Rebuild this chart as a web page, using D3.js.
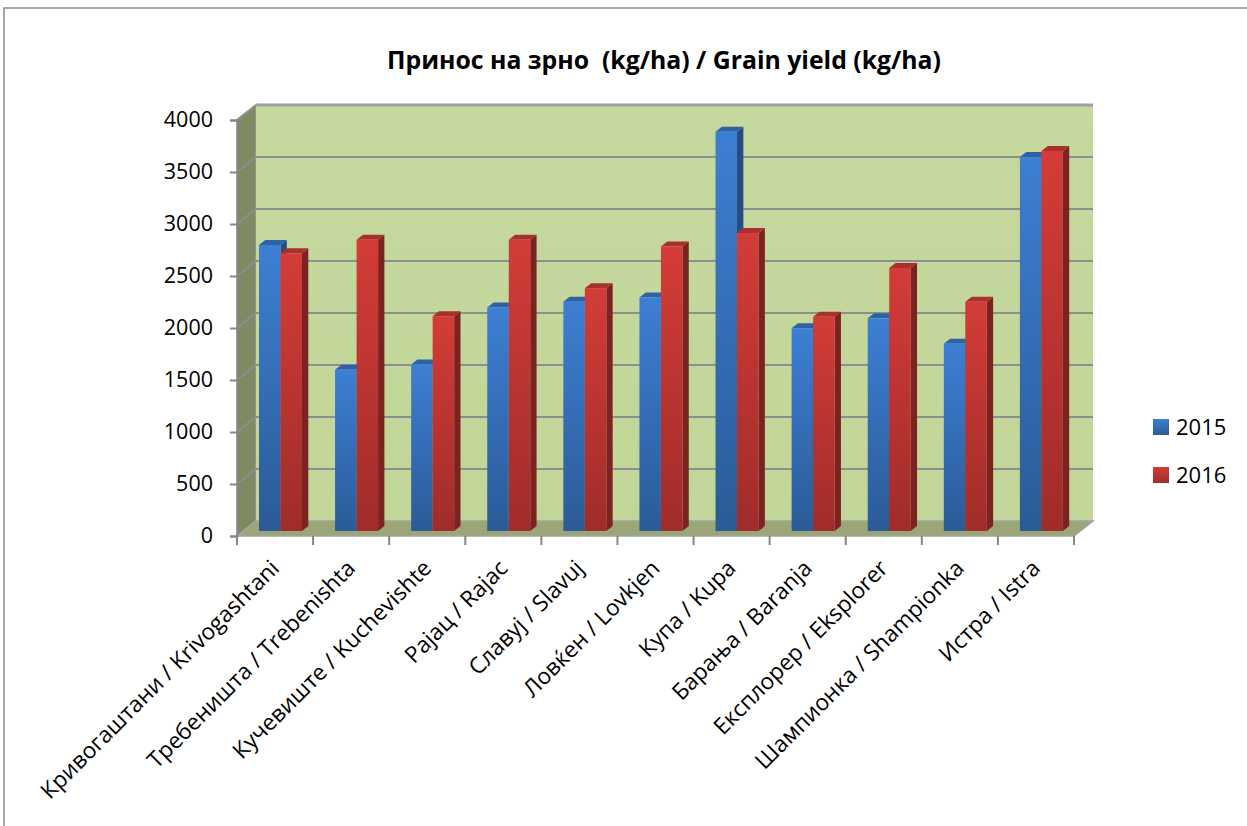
<!DOCTYPE html>
<html>
<head>
<meta charset="utf-8">
<script src="https://cdn.jsdelivr.net/npm/d3@7"></script>
<style>
  html, body { margin: 0; padding: 0; background: #ffffff; }
  svg { display: block; }
  text { font-family: "Open Sans", "Noto Sans", sans-serif; fill: #000; }
</style>
</head>
<body>
<svg id="chart" width="1247" height="826"></svg>
<script>
// Grain yield per variety, two seasons
const categories = [
  "Кривогаштани / Krivogashtani",
  "Требеништа / Trebenishta",
  "Кучевиште / Kuchevishte",
  "Рајац / Rajac",
  "Славуј / Slavuj",
  "Ловќен / Lovkjen",
  "Купа / Kupa",
  "Барања / Baranja",
  "Експлорер / Eksplorer",
  "Шампионка / Shampionka",
  "Истра / Istra"
];
const seriesNames = ["2015", "2016"];
const yield2015 = [2750, 1550, 1600, 2150, 2205, 2245, 3840, 1950, 2045, 1800, 3595];
const yield2016 = [2670, 2800, 2065, 2800, 2335, 2735, 2865, 2060, 2530, 2205, 3655];
const yTicks = [0, 500, 1000, 1500, 2000, 2500, 3000, 3500, 4000];
const titleText = "Принос на зрно  (kg/ha) / Grain yield (kg/ha)";

const svg = d3.select("#chart");

// outer chart frame
svg.append("rect")
  .attr("x", 4).attr("y", 8).attr("width", 1300).attr("height", 900)
  .attr("fill", "none").attr("stroke", "#8a8a8a").attr("stroke-width", 1.5);

// oblique depth vector of the 3D box
const depth = { x: 19, y: -15 };

const x = d3.scaleBand().domain(categories).range([237, 1074]);
const y = d3.scaleLinear().domain([0, 4000]).range([536, 120]);

const defs = svg.append("defs");
function vGrad(id, top, bottom) {
  const g = defs.append("linearGradient").attr("id", id)
    .attr("x1", 0).attr("y1", 0).attr("x2", 0).attr("y2", 1);
  g.append("stop").attr("offset", "0%").attr("stop-color", top);
  g.append("stop").attr("offset", "100%").attr("stop-color", bottom);
}
vGrad("g2015", "#3d7fd3", "#2b5b97");
vGrad("g2016", "#d33c38", "#a02c29");
vGrad("wallGrad", "#c5d89d", "#c3d69a");

const palette = {
  "2015": { front: "url(#g2015)", side: "#264d80", top: "#2e62a6" },
  "2016": { front: "url(#g2016)", side: "#7b2321", top: "#a9302d" }
};

const pt = (px, py) => px + "," + py;
const x0 = x.range()[0], x1 = x.range()[1];
const yTop = y(4000), yBase = y(0);

// side wall
svg.append("polygon")
  .attr("points", [pt(x0, yTop), pt(x0 + depth.x, yTop + depth.y), pt(x0 + depth.x, yBase + depth.y), pt(x0, yBase)].join(" "))
  .attr("fill", "#7f8a62").attr("stroke", "#9a9a9a").attr("stroke-width", 1.5);

// back wall
svg.append("polygon")
  .attr("points", [pt(x0 + depth.x, yTop + depth.y), pt(x1 + depth.x, yTop + depth.y), pt(x1 + depth.x, yBase + depth.y), pt(x0 + depth.x, yBase + depth.y)].join(" "))
  .attr("fill", "url(#wallGrad)");

// floor
svg.append("polygon")
  .attr("points", [pt(x0, yBase), pt(x1, yBase), pt(x1 + depth.x, yBase + depth.y), pt(x0 + depth.x, yBase + depth.y)].join(" "))
  .attr("fill", "#9ba676").attr("stroke", "#a3a3a3").attr("stroke-width", 1.5);

// gridlines on back and side walls
const grid = svg.append("g").attr("stroke", "#8e8e8e").attr("stroke-width", 2).attr("fill", "none");
yTicks.filter(v => v > 0).forEach(v => {
  const yy = y(v);
  grid.append("line")
    .attr("x1", x0 + depth.x).attr("x2", x1 + depth.x)
    .attr("y1", yy + depth.y).attr("y2", yy + depth.y)
    .attr("stroke", v === 4000 ? "#a0a0a0" : "#8e8e8e")
    .attr("stroke-width", v === 4000 ? 3 : 2);
  grid.append("line")
    .attr("x1", x0).attr("x2", x0 + depth.x)
    .attr("y1", yy).attr("y2", yy + depth.y);
});

// 3D columns: front face at one third of the depth, back at two thirds
const d = { x: depth.x / 3, y: depth.y / 3 };
const barW = 21.5;
const bars = svg.append("g");
categories.forEach((c, i) => {
  const center = x(c) + x.bandwidth() / 2;
  const values = [yield2015[i], yield2016[i]];
  const inner = d3.scaleBand().domain(seriesNames).range([center - 22.4, center - 22.4 + 2 * barW]);
  seriesNames.forEach((s, k) => {
    const v = values[k];
    const bx = inner(s) + d.x;
    const w = inner.bandwidth();
    const top = y(v) + d.y;
    const bot = y(0) + d.y;
    const col = palette[s];
    bars.append("polygon")
      .attr("points", [pt(bx + w, top), pt(bx + w + d.x, top + d.y), pt(bx + w + d.x, bot + d.y), pt(bx + w, bot)].join(" "))
      .attr("fill", col.side);
    bars.append("polygon")
      .attr("points", [pt(bx, top), pt(bx + d.x, top + d.y), pt(bx + w + d.x, top + d.y), pt(bx + w, top)].join(" "))
      .attr("fill", col.top);
    bars.append("rect")
      .attr("x", bx).attr("y", top).attr("width", w).attr("height", bot - top)
      .attr("fill", col.front);
  });
});

// value axis
const yAxis = svg.append("g").attr("transform", `translate(${x0},0)`)
  .call(d3.axisLeft(y).tickValues(yTicks).tickSize(7).tickPadding(17).tickFormat(d3.format("d")));
yAxis.select(".domain").attr("stroke", "#868686").attr("stroke-width", 2);
yAxis.selectAll(".tick line").attr("stroke", "#868686").attr("stroke-width", 2);
yAxis.selectAll(".tick text").style("font-size", "21.5px").attr("fill", "#000");

// category axis: ticks at band boundaries
const catAxis = svg.append("g");
d3.range(categories.length + 1).forEach(i => {
  const tx = x0 + i * x.step();
  catAxis.append("line")
    .attr("x1", tx).attr("x2", tx).attr("y1", yBase).attr("y2", yBase + 9)
    .attr("stroke", "#868686").attr("stroke-width", 2);
});
catAxis.selectAll("text.cat").data(categories).enter().append("text")
  .attr("class", "cat")
  .attr("transform", c => `translate(${x(c) + x.bandwidth() / 2 + 0},${yBase + 28}) rotate(-45)`)
  .attr("text-anchor", "end")
  .attr("dy", "0.35em")
  .style("font-size", "22.6px")
  .text(c => c);

// title
svg.append("text")
  .attr("x", 664).attr("y", 69)
  .attr("text-anchor", "middle")
  .style("font-size", "24.8px").style("font-weight", 700)
  .style("white-space", "pre")
  .text(titleText);

// legend
const legend = svg.append("g");
seriesNames.forEach((s, k) => {
  const ly = 427 + k * 48;
  legend.append("rect")
    .attr("x", 1153).attr("y", ly - 8).attr("width", 16).attr("height", 16)
    .attr("fill", palette[s].front);
  legend.append("text")
    .attr("x", 1176).attr("y", ly).attr("dy", "0.35em")
    .style("font-size", "22px")
    .text(s);
});
</script>
</body>
</html>
